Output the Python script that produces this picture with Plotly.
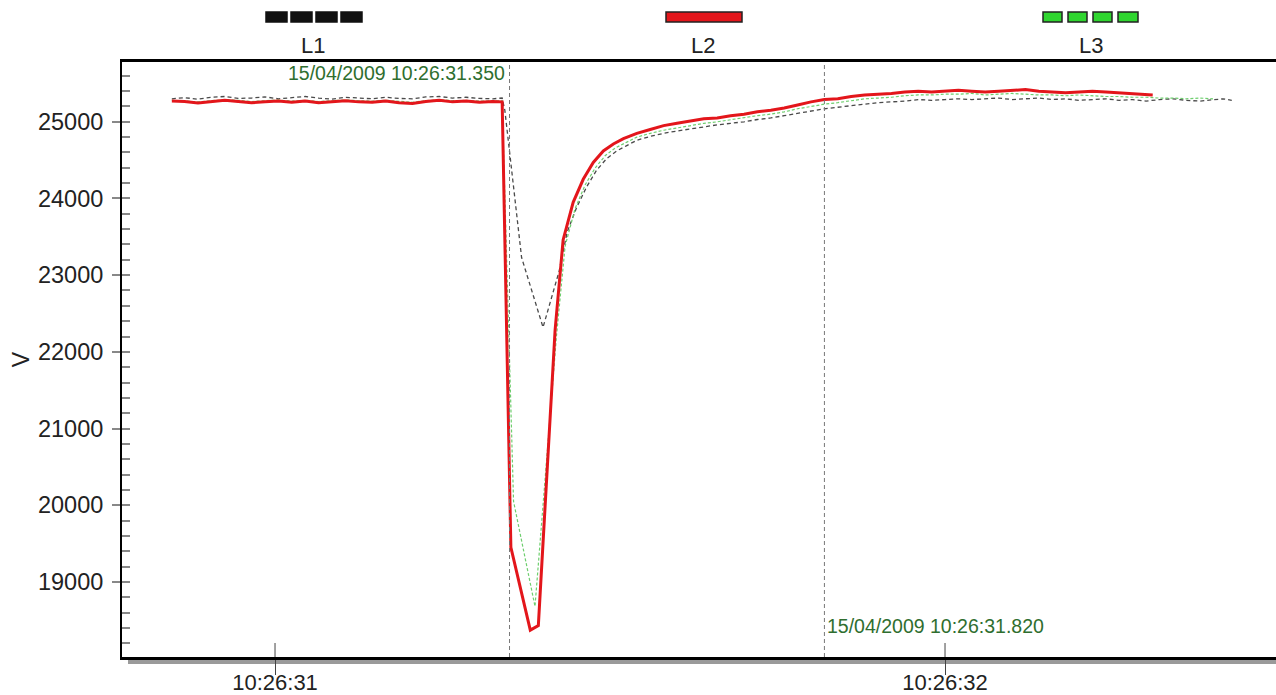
import pandas as pd
import plotly.graph_objects as go

BASE = "2009-04-15 10:26:00"

# ---------------- data (seconds after 10:26:00, volts) ----------------
t_flat = [30.846, 30.865, 30.885, 30.905, 30.925, 30.945, 30.965, 30.985, 31.005, 31.025,
          31.045, 31.065, 31.085, 31.105, 31.125, 31.145, 31.165, 31.185, 31.205, 31.225,
          31.245, 31.265, 31.285, 31.305, 31.325, 31.339]
l1_flat = [25300, 25315, 25295, 25320, 25330, 25305, 25310, 25325, 25300, 25315,
           25330, 25310, 25295, 25320, 25310, 25300, 25320, 25305, 25300, 25325,
           25330, 25310, 25320, 25305, 25300, 25310]
l2_flat = [25270, 25265, 25245, 25260, 25280, 25265, 25250, 25260, 25270, 25255,
           25270, 25250, 25260, 25275, 25260, 25255, 25270, 25250, 25240, 25265,
           25280, 25260, 25270, 25255, 25265, 25260]
l3_flat = [25280, 25275, 25260, 25275, 25290, 25280, 25265, 25275, 25285, 25270,
           25280, 25265, 25275, 25285, 25275, 25270, 25280, 25265, 25255, 25275,
           25290, 25275, 25280, 25270, 25275, 25275]

t_l1_dip = [31.343, 31.368, 31.400, 31.424, 31.436, 31.450, 31.465, 31.480, 31.495, 31.510,
            31.525, 31.54, 31.56, 31.58, 31.60, 31.62, 31.64, 31.66, 31.68, 31.70,
            31.72, 31.74, 31.76, 31.78, 31.80, 31.82, 31.84, 31.86, 31.88, 31.90,
            31.92, 31.94, 31.96, 31.98, 32.00, 32.02, 32.04, 32.06, 32.08, 32.10,
            32.12, 32.14, 32.16, 32.18, 32.20, 32.22, 32.24, 32.26, 32.28, 32.30,
            32.32, 32.34, 32.36, 32.38, 32.40, 32.415, 32.428]
l1_dip = [25150, 23230, 22320, 23050, 23560, 23880, 24150, 24370, 24520, 24620,
          24690, 24760, 24810, 24850, 24880, 24910, 24940, 24960, 24980, 25000,
          25030, 25050, 25080, 25110, 25140, 25170, 25190, 25210, 25230, 25250,
          25260, 25270, 25290, 25280, 25290, 25300, 25290, 25300, 25310, 25290,
          25300, 25310, 25290, 25300, 25280, 25290, 25300, 25280, 25290, 25270,
          25290, 25300, 25280, 25270, 25290, 25300, 25280]

t_l2_dip = [31.352, 31.381, 31.393, 31.418, 31.430, 31.445, 31.460, 31.475, 31.490, 31.505,
            31.520, 31.54, 31.56, 31.58, 31.60, 31.62, 31.64, 31.66, 31.68, 31.70,
            31.72, 31.74, 31.76, 31.78, 31.80, 31.82, 31.84, 31.86, 31.88, 31.90,
            31.92, 31.94, 31.96, 31.98, 32.00, 32.02, 32.04, 32.06, 32.08, 32.10,
            32.12, 32.14, 32.16, 32.18, 32.20, 32.22, 32.24, 32.26, 32.28, 32.30,
            32.31]
l2_dip = [19450, 18370, 18430, 22280, 23460, 23950, 24250, 24470, 24620, 24710,
          24780, 24850, 24900, 24950, 24980, 25010, 25040, 25050, 25080, 25100,
          25130, 25150, 25180, 25220, 25260, 25290, 25300, 25330, 25350, 25360,
          25370, 25390, 25400, 25390, 25400, 25410, 25400, 25390, 25400, 25410,
          25420, 25400, 25390, 25380, 25390, 25400, 25390, 25380, 25370, 25360,
          25350]

t_l3_dip = [31.356, 31.388, 31.420, 31.433, 31.448, 31.463, 31.478, 31.493, 31.508, 31.523,
            31.54, 31.56, 31.58, 31.60, 31.62, 31.64, 31.66, 31.68, 31.70, 31.72,
            31.74, 31.76, 31.78, 31.80, 31.82, 31.84, 31.86, 31.88, 31.90, 31.92,
            31.94, 31.96, 31.98, 32.00, 32.02, 32.04, 32.06, 32.08, 32.10, 32.12,
            32.14, 32.16, 32.18, 32.20, 32.22, 32.24, 32.26, 32.28, 32.30, 32.32,
            32.34, 32.36, 32.38, 32.40]
l3_dip = [20050, 18680, 22200, 23380, 23870, 24180, 24400, 24560, 24660, 24730,
          24800, 24850, 24890, 24920, 24950, 24980, 25000, 25030, 25050, 25080,
          25100, 25130, 25170, 25200, 25230, 25250, 25280, 25300, 25310, 25320,
          25340, 25350, 25350, 25360, 25360, 25370, 25350, 25360, 25370, 25360,
          25350, 25350, 25340, 25350, 25340, 25330, 25330, 25320, 25320, 25310,
          25310, 25300, 25310, 25300]

series_names = ["L1", "L2", "L3"]
x_tick_s = [31, 32]
y_ticks = [19000, 20000, 21000, 22000, 23000, 24000, 25000]
cursor_s = [31.350, 31.820]
cursor_labels = ["15/04/2009 10:26:31.350", "15/04/2009 10:26:31.820"]
x_range_s = [30.7716, 32.494]
y_range = [18020, 25780]

# ---------------- helpers ----------------
def ts(secs):
    return pd.Timestamp(BASE) + pd.to_timedelta(secs, unit="s")

W, H = 1276, 695
ML, MR, MT, MB = 122, 0, 62, 38
PW, PH = W - ML - MR, H - MT - MB

def px(xp):
    return (xp - ML) / PW

def py(yp):
    return (H - MB - yp) / PH

FONT = "Liberation Sans, Arial, sans-serif"
RED = "#e3161b"
GREEN_LINE = "#6fcf6f"
GRAY_LINE = "#4a4a4a"
TXT_GREEN = "#2f6e2f"

fig = go.Figure()

fig.add_trace(go.Scatter(
    x=ts(t_flat + t_l1_dip), y=l1_flat + l1_dip, name=series_names[0], mode="lines",
    line=dict(color=GRAY_LINE, width=1.3, dash="4px,3px")))
fig.add_trace(go.Scatter(
    x=ts(t_flat + t_l3_dip), y=l3_flat + l3_dip, name=series_names[2], mode="lines",
    line=dict(color=GREEN_LINE, width=1.2, dash="3px,2px")))
fig.add_trace(go.Scatter(
    x=ts(t_flat + t_l2_dip), y=l2_flat + l2_dip, name=series_names[1], mode="lines",
    line=dict(color=RED, width=3)))
# carrier for the inside minor-tick axis
fig.add_trace(go.Scatter(x=[], y=[], yaxis="y2", showlegend=False, hoverinfo="skip"))

shapes = []
annotations = []

# cursor lines and their time stamps
for i, (cs, lab) in enumerate(zip(cursor_s, cursor_labels)):
    shapes.append(dict(type="line", xref="x", yref="paper", x0=ts(cs), x1=ts(cs), y0=0, y1=1,
                       line=dict(color="#777777", width=1, dash="4px,3px")))
    if i == 0:
        annotations.append(dict(x=ts(cs), y=py(73), xref="x", yref="paper", text=lab,
                                showarrow=False, xanchor="right", yanchor="middle", xshift=-3,
                                font=dict(family=FONT, size=19.5, color=TXT_GREEN)))
    else:
        annotations.append(dict(x=ts(cs), y=py(626), xref="x", yref="paper", text=lab,
                                showarrow=False, xanchor="left", yanchor="middle", xshift=1,
                                font=dict(family=FONT, size=19.5, color=TXT_GREEN)))

# inside part of the x ticks (ticks cross the axis)
for s in x_tick_s:
    shapes.append(dict(type="line", xref="x", yref="paper", x0=ts(s), x1=ts(s),
                       y0=0, y1=14 / PH, line=dict(color="#444444", width=1)))

# shadow under bottom axis
shapes.append(dict(type="rect", xref="paper", yref="paper", x0=px(128), x1=1,
                   y0=py(664), y1=py(659), fillcolor="#9a9a9a", line=dict(width=0), layer="below"))

# legend (custom, swatch above label)
legend_items = [
    dict(name=series_names[0], cx=313, blocks=[(266, 287), (291, 312), (316, 337), (341, 362)],
         fill="#111111", edge="#111111"),
    dict(name=series_names[1], cx=703, blocks=[(666, 742)], fill=RED, edge="#222222"),
    dict(name=series_names[2], cx=1091, blocks=[(1043, 1062), (1068, 1087), (1093, 1112), (1118, 1138)],
         fill="#2fd52f", edge="#222222"),
]
for it in legend_items:
    for (a, b) in it["blocks"]:
        shapes.append(dict(type="rect", xref="paper", yref="paper", x0=px(a), x1=px(b),
                           y0=py(22), y1=py(12), fillcolor=it["fill"],
                           line=dict(color=it["edge"], width=1.5)))
    annotations.append(dict(x=px(it["cx"]), y=py(45), xref="paper", yref="paper", text=it["name"],
                            showarrow=False, xanchor="center", yanchor="middle",
                            font=dict(family=FONT, size=22, color="#222222")))

minor_vals = list(range(18200, 25800, 200))

fig.update_layout(
    width=W, height=H,
    margin=dict(l=ML, r=MR, t=MT, b=MB, pad=0, autoexpand=False),
    paper_bgcolor="white", plot_bgcolor="white",
    showlegend=False,
    font=dict(family=FONT, color="#222222"),
    xaxis=dict(type="date", range=[ts(x_range_s[0]), ts(x_range_s[1])], automargin=False,
               tickmode="array", tickvals=ts(x_tick_s), tickformat="%H:%M:%S",
               ticks="outside", ticklen=15, tickwidth=1, tickcolor="#444444",
               ticklabelstandoff=-11,
               showline=True, linecolor="black", linewidth=3, mirror=True,
               showgrid=False, zeroline=False,
               tickfont=dict(family=FONT, size=22, color="#222222")),
    yaxis=dict(range=y_range, tickmode="array", tickvals=y_ticks, tickformat="d",
               automargin=False,
               ticks="outside", ticklen=8, tickwidth=1.5, tickcolor="#888888",
               ticklabelstandoff=4,
               showline=True, linecolor="black", linewidth=2,
               showgrid=False, zeroline=False,
               tickfont=dict(family=FONT, size=23.5, color="#222222"),
               title=dict(text="V", standoff=2, font=dict(family=FONT, size=23, color="#222222"))),
    yaxis2=dict(overlaying="y", side="left", anchor="x", range=y_range, automargin=False,
                tickmode="array", tickvals=minor_vals, ticks="inside", ticklen=8,
                tickwidth=1.5, tickcolor="#888888", showticklabels=False,
                showline=False, showgrid=False, zeroline=False),
    shapes=shapes,
    annotations=annotations,
)

fig.write_html("out.html", config={"displayModeBar": False},
               post_script="document.body.style.margin='0px';")
